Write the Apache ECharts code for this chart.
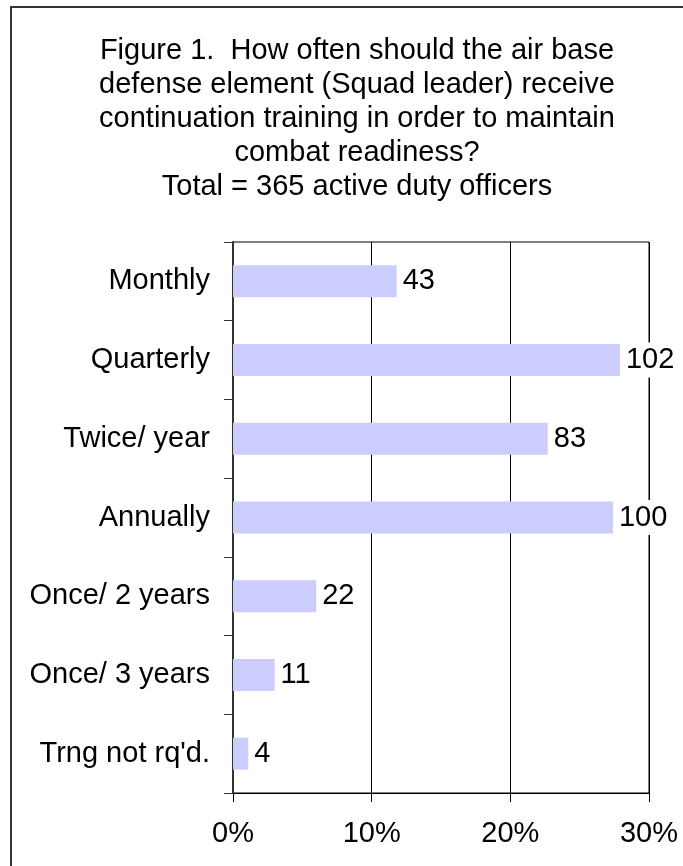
<!DOCTYPE html>
<html>
<head>
<meta charset="utf-8">
<script src="https://cdn.jsdelivr.net/npm/echarts@6/dist/echarts.min.js"></script>
<style>
html,body{margin:0;padding:0;background:#fff;}
#chart{width:683px;height:866px;}
</style>
</head>
<body>
<div id="chart"></div>
<script>
const titleText = "Figure 1.  How often should the air base\ndefense element (Squad leader) receive\ncontinuation training in order to maintain\ncombat readiness?\nTotal = 365 active duty officers";
const categories = ['Monthly', 'Quarterly', 'Twice/ year', 'Annually', 'Once/ 2 years', 'Once/ 3 years', "Trng not rq'd."];
const counts = [43, 102, 83, 100, 22, 11, 4];
const percents = [11.8, 27.9, 22.7, 27.4, 6.0, 3.0, 1.1];
const xTicks = { min: 0, max: 30, interval: 10 };

const FONT = "'Liberation Sans', Arial, sans-serif";
const FS = 29;
const chart = echarts.init(document.getElementById('chart'), null, { renderer: 'canvas' });
chart.setOption({
  animation: false,
  backgroundColor: '#fff',
  graphic: [{
    type: 'rect', z: -10,
    shape: { x: 11, y: 7, width: 720, height: 900 },
    style: { fill: 'none', stroke: '#333', lineWidth: 2 }
  }],
  title: {
    text: titleText,
    left: 352, top: 29, textAlign: 'center',
    textStyle: { fontFamily: FONT, fontSize: FS, fontWeight: 'normal', color: '#000', lineHeight: 34 }
  },
  grid: { left: 233, right: 34, top: 242, bottom: 73, show: true, borderColor: '#000', borderWidth: 1, containLabel: false },
  xAxis: {
    type: 'value', min: xTicks.min, max: xTicks.max, interval: xTicks.interval,
    axisLine: { show: true, lineStyle: { color: '#000', width: 1 } },
    axisTick: { show: true, length: 9, lineStyle: { color: '#000' } },
    splitLine: { show: true, lineStyle: { color: '#000', width: 1 } },
    axisLabel: { formatter: '{value}%', fontFamily: FONT, fontSize: FS, color: '#000', margin: 26 }
  },
  yAxis: {
    type: 'category', data: categories, inverse: true,
    axisLine: { show: true, lineStyle: { color: '#333', width: 2 } },
    axisTick: { show: true, length: 9, lineStyle: { color: '#333' } },
    axisLabel: { fontFamily: FONT, fontSize: FS, color: '#000', margin: 23 }
  },
  series: [{
    type: 'bar',
    data: percents,
    barWidth: 32,
    itemStyle: { color: '#CCCCFF' },
    label: {
      show: true, position: 'right', distance: 4,
      fontFamily: FONT, fontSize: FS, color: '#000',
      backgroundColor: '#fff', padding: [3, 2, 3, 2],
      formatter: p => String(counts[p.dataIndex])
    }
  }]
});
</script>
</body>
</html>
